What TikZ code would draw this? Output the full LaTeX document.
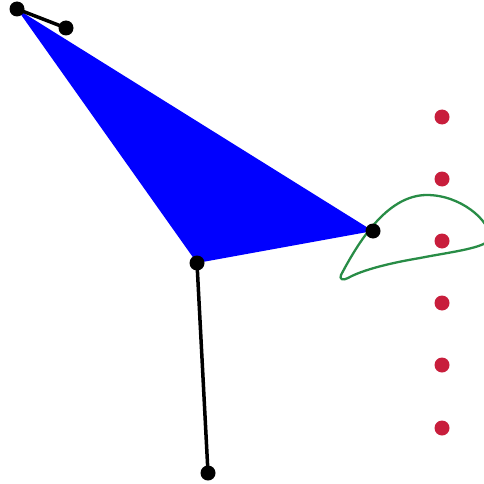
\documentclass[tikz,border=0pt]{standalone}
\usepackage{tikz}
\usetikzlibrary{positioning}

\definecolor{punktrot}{RGB}{200,30,60}
\definecolor{kurvengruen}{RGB}{40,140,70}

\tikzset{
	punkt/.style={circle, fill=black, inner sep=0pt, minimum size=15pt},
	rotpunkt/.style={circle, fill=punktrot, inner sep=0pt, minimum size=15pt},
	linie/.style={black, line width=3.5pt},
}

\begin{document}
\begin{tikzpicture}[x=1pt, y=-1pt]
			\useasboundingbox (0,0) rectangle (484,484);
			\clip (0,0) rectangle (484,484);
			
			% Eckpunkte
			\coordinate (A) at (17,9);
			\coordinate (B) at (66,28);
			\coordinate (C) at (197,263);
			\coordinate (D) at (373,231);
			\coordinate (E) at (208,473);
			
			% Dreieck
			\fill[blue] (A) -- (C) -- (D) -- cycle;
			
			% Kurve
			\draw[kurvengruen, line width=2.3pt, line join=round]
				(341,275) .. controls (362,235) and (390,195) .. (427,195)
				.. controls (460,195) and (490,220) .. (490,238)
				.. controls (488,248) and (450,252) .. (420,258)
				.. controls (390,263) and (362,270) .. (348,278)
				.. controls (343,281) and (339,279) .. (341,275) -- cycle;
			
			% Strecken
			\draw[linie] (A) -- (B);
			\draw[linie] (C) -- (E);
			
			% Punkte
			\foreach \p in {A,B,C,D,E}
				\node[punkt] (n\p) at (\p) {};
			
			% rote Punkte
			\foreach \i/\y in {1/117,2/179,3/241,4/303,5/365,6/428}
				\node[rotpunkt] (r\i) at (442,\y) {};
		\end{tikzpicture}
\end{document}
